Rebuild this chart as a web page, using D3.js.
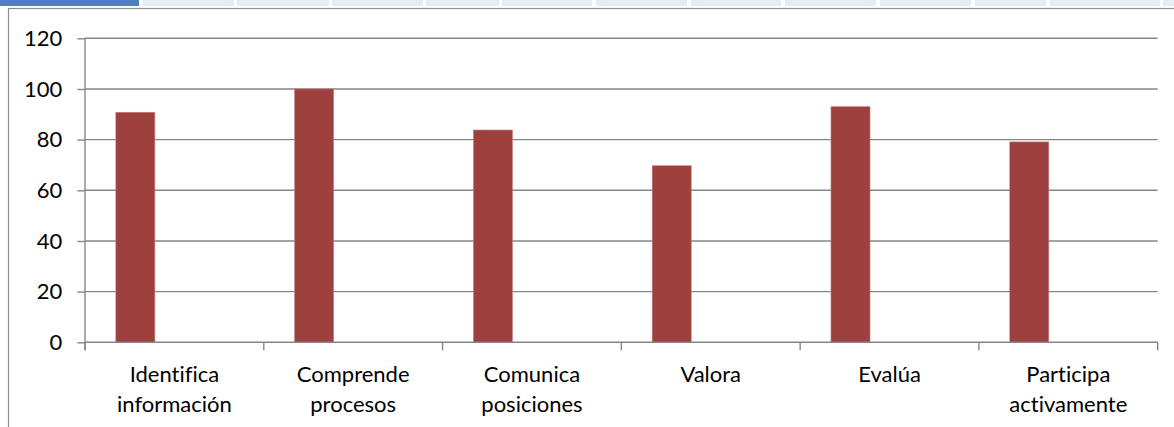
<!DOCTYPE html>
<html>
<head>
<meta charset="utf-8">
<script src="https://cdn.jsdelivr.net/npm/d3@7/dist/d3.min.js"></script>
<style>
  html, body { margin: 0; padding: 0; background: #fff; }
  svg { display: block; }
  text { font-variant-ligatures: none; font-feature-settings: "liga" 0; }
</style>
</head>
<body>
<svg id="chart" width="1174" height="427"></svg>
<script>
// ---- data ----
const categories = [
  ["Identifica", "información"],
  ["Comprende", "procesos"],
  ["Comunica", "posiciones"],
  ["Valora"],
  ["Evalúa"],
  ["Participa", "activamente"]
];
const categoryKeys = categories.map(c => c.join(" "));
const seriesNames = ["Serie 1", "Serie 2", "Serie 3"];
const series1 = [90.8, 100, 83.8, 69.7, 93, 79.1];
const yTicks = [0, 20, 40, 60, 80, 100, 120];
const tabEdges = [0, 139, 143, 234, 237, 329, 332, 423, 426, 499, 502, 592, 596, 687, 691, 781, 785, 876, 880, 971, 975, 1046, 1050, 1160, 1163, 1174];

// ---- layout ----
const svg = d3.select("#chart");
const plot = { left: 85, right: 1157.7, top: 38.3, bottom: 342.3 };
const font = "Lato, 'Open Sans', sans-serif";
const fontSize = 22;

// header tabs strip
for (let i = 0; i < tabEdges.length - 1; i += 2) {
  svg.append("rect")
    .attr("x", tabEdges[i]).attr("y", 0)
    .attr("width", tabEdges[i + 1] - tabEdges[i]).attr("height", 6)
    .attr("fill", i === 0 ? "#4f80bd" : "#e7ecf4");
}

// chart frame
svg.append("rect")
  .attr("x", 8.5).attr("y", 8.5)
  .attr("width", 1300).attr("height", 600)
  .attr("fill", "none").attr("stroke", "#8e8e8e").attr("stroke-width", 1.2);

const x = d3.scaleBand().domain(categoryKeys).range([plot.left, plot.right]).paddingInner(0).paddingOuter(0);
const xs = d3.scaleBand().domain(seriesNames).range([0, x.bandwidth()]).paddingInner(0).paddingOuter(0.79);
const y = d3.scaleLinear().domain([0, 120]).range([plot.bottom, plot.top]);

// gridlines
svg.append("g")
  .selectAll("line").data(yTicks.filter(t => t > 0)).join("line")
  .attr("x1", plot.left).attr("x2", plot.right)
  .attr("y1", d => y(d)).attr("y2", d => y(d))
  .attr("stroke", "#868686").attr("stroke-width", 1.4);

// bars
svg.append("g")
  .selectAll("rect").data(series1).join("rect")
  .attr("x", (d, i) => x(categoryKeys[i]) + xs("Serie 1"))
  .attr("width", xs.bandwidth())
  .attr("y", d => y(d))
  .attr("height", d => y(0) - y(d))
  .attr("fill", "#9d403e")
  .attr("stroke", "#c9807e").attr("stroke-width", 0.6);

// y axis
const yAxis = d3.axisLeft(y).tickValues(yTicks).tickSize(7.7).tickPadding(15).tickFormat(d3.format("d"));
const gy = svg.append("g").attr("transform", `translate(${plot.left},0)`).call(yAxis);
gy.select(".domain").attr("stroke", "#868686").attr("stroke-width", 1.4)
  .attr("d", `M0,${plot.top}V${plot.bottom + 8}`);
gy.selectAll(".tick line").attr("stroke", "#868686").attr("stroke-width", 1.4);
gy.selectAll(".tick text").attr("font-family", font).attr("font-size", fontSize).attr("fill", "#000");

// x axis
const xEdges = categoryKeys.map(k => x(k)).concat([plot.right]);
const gx = svg.append("g");
gx.append("line")
  .attr("x1", plot.left).attr("x2", plot.right)
  .attr("y1", plot.bottom).attr("y2", plot.bottom)
  .attr("stroke", "#868686").attr("stroke-width", 1.4);
gx.selectAll("line.tk").data(xEdges).join("line").attr("class", "tk")
  .attr("x1", d => d).attr("x2", d => d)
  .attr("y1", plot.bottom).attr("y2", plot.bottom + 8)
  .attr("stroke", "#868686").attr("stroke-width", 1.4);

const labels = gx.selectAll("text").data(categories).join("text")
  .attr("font-family", font).attr("font-size", fontSize).attr("fill", "#000")
  .attr("text-anchor", "middle")
  .attr("transform", (d, i) => `translate(${x(categoryKeys[i]) + x.bandwidth() / 2},381.5)`);
labels.selectAll("tspan").data(d => d).join("tspan")
  .attr("x", 0).attr("y", (d, i) => i * 30)
  .text(d => d);
</script>
</body>
</html>
